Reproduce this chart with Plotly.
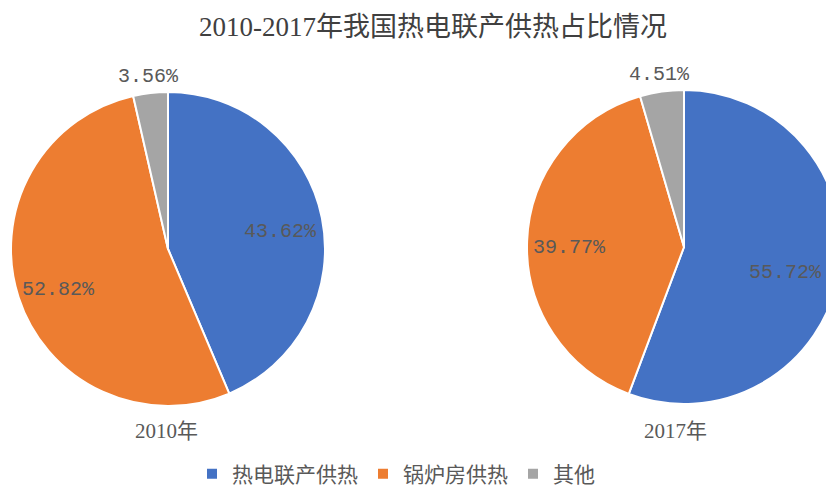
import math
import plotly.graph_objects as go

title_text = "2010-2017年我国热电联产供热占比情况"
categories = ["热电联产供热", "锅炉房供热", "其他"]
years = ["2010年", "2017年"]
values_2010 = [43.62, 52.82, 3.56]
values_2017 = [55.72, 39.77, 4.51]
colors = ["#4472C4", "#ED7D31", "#A5A5A5"]

# figure geometry (the page body adds an 8px offset)
W, H = 850, 490
OFF = 8
VISIBLE_RIGHT = 824


def px(x):
    return (x - OFF) / W


def py(y):
    return 1 - (y - OFF) / H


label_font = dict(family="Liberation Mono, DejaVu Sans Mono, monospace", size=20, color="#595959")
serif_cjk = "Liberation Serif, Noto Sans CJK SC, serif"

pies = [
    dict(vals=values_2010, cx=168, cy=249, r=157, year=years[0], year_x=166, legend=True),
    dict(vals=values_2017, cx=684, cy=247, r=157, year=years[1], year_x=675, legend=False),
]

fig = go.Figure()
annotations = []
for p in pies:
    vals = p["vals"]
    fig.add_trace(go.Pie(
        labels=categories,
        values=vals,
        sort=False,
        direction="clockwise",
        rotation=0,
        marker=dict(colors=colors, line=dict(color="white", width=2)),
        textinfo="none",
        hoverinfo="label+value",
        domain=dict(x=[px(p["cx"] - p["r"]), min(1.0, px(p["cx"] + p["r"]))],
                    y=[py(p["cy"] + p["r"]), py(p["cy"] - p["r"])]),
        showlegend=p["legend"],
    ))
    # data labels placed along the middle angle of each slice
    total = sum(vals)
    cum = 0.0
    for i, v in enumerate(vals):
        mid = (cum + v / 2) / total * 2 * math.pi
        cum += v
        if i < 2:
            rr = 0.73 * p["r"]
            nudge = 5
        else:
            rr = p["r"] + 17
            nudge = 0
        lx = p["cx"] + rr * math.sin(mid)
        ly = p["cy"] - rr * math.cos(mid) + nudge
        ann = dict(text=f"{v:.2f}%", y=py(ly), xref="paper", yref="paper",
                   showarrow=False, yanchor="middle", font=label_font)
        if lx + 36 > VISIBLE_RIGHT:
            ann.update(x=px(VISIBLE_RIGHT), xanchor="right")
        else:
            ann.update(x=px(lx), xanchor="center")
        annotations.append(ann)
    annotations.append(dict(text=p["year"], x=px(p["year_x"]), y=py(431), xref="paper", yref="paper",
                            showarrow=False, xanchor="center", yanchor="middle",
                            font=dict(family=serif_cjk, size=21, color="#595959")))

fig.update_layout(
    width=W, height=H,
    margin=dict(l=0, r=0, t=0, b=0, autoexpand=False),
    paper_bgcolor="white",
    plot_bgcolor="white",
    title=dict(text=title_text, x=px(433), xanchor="center", y=py(27), yanchor="middle",
               font=dict(family=serif_cjk, size=27, color="#404040")),
    legend=dict(orientation="h", x=px(192), xanchor="left", y=py(474), yanchor="middle",
                font=dict(family="Noto Sans CJK SC, sans-serif", size=21, color="#595959"),
                itemwidth=30, traceorder="normal", bgcolor="rgba(0,0,0,0)"),
    annotations=annotations,
)

fig.write_html("out.html")
